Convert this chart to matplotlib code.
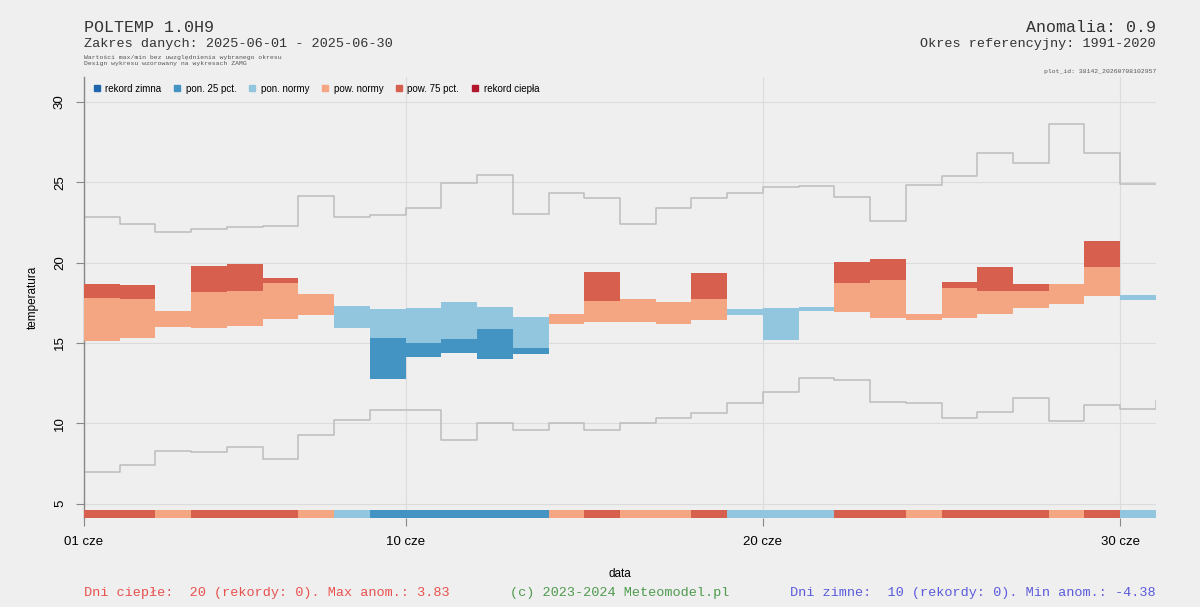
import matplotlib.pyplot as plt
from matplotlib.lines import Line2D

# dane dzienne, czerwiec 2025
dni = list(range(1, 31))
norma = [15.09, 15.30, 15.98, 15.94, 16.05, 16.46, 16.76, 17.29, 17.11, 17.17,
         17.54, 17.23, 16.61, 16.20, 16.30, 16.30, 16.15, 16.44, 17.13, 17.19,
         17.23, 16.92, 16.57, 16.40, 16.57, 16.82, 17.17, 17.44, 17.90, 17.96]
tavg = [18.69, 18.60, 16.98, 19.77, 19.89, 19.06, 18.02, 15.92, 12.73, 14.12,
        14.37, 14.02, 14.28, 16.82, 19.41, 17.75, 17.54, 19.35, 16.71, 15.20,
        16.98, 20.04, 20.22, 16.78, 18.81, 19.70, 18.69, 18.69, 21.34, 17.69]
# percentyl 75 (dni cieple) lub 25 (dni zimne), tylko gdy przekroczony
prog = [17.79, 17.71, None, 18.17, 18.23, 18.75, None, None, 15.30, 15.01,
        15.22, 15.88, 14.70, None, 17.59, None, None, 17.75, None, None,
        None, 18.75, 18.89, None, 18.44, 18.25, 18.21, None, 19.72, None]
# max/min z okresu referencyjnego (31. wartosc = koniec schodka)
tmax_ref = [22.86, 22.43, 21.90, 22.09, 22.20, 22.30, 24.13, 22.86, 22.94, 23.40,
            24.98, 25.45, 23.02, 24.36, 24.05, 22.38, 23.38, 24.05, 24.30, 24.71,
            24.77, 24.08, 22.57, 24.86, 25.39, 26.85, 26.17, 28.60, 26.81, 24.92, 24.92]
tmin_ref = [6.97, 7.40, 8.30, 8.22, 8.51, 7.79, 9.26, 10.23, 10.84, 10.80,
            8.96, 10.03, 9.58, 10.03, 9.58, 10.00, 10.30, 10.62, 11.27, 11.96,
            12.80, 12.71, 11.33, 11.27, 10.30, 10.71, 11.59, 10.15, 11.12, 10.86, 11.38]

xticks = [1, 10, 20, 30]
xlabels = ["01 cze", "10 cze", "20 cze", "30 cze"]
yticks = [5, 10, 15, 20, 25, 30]

kolory = {"rekord zimna": "#2166AC", "pon. 25 pct.": "#4393C3", "pon. normy": "#92C5DE",
          "pow. normy": "#F4A582", "pow. 75 pct.": "#D6604D", "rekord ciepła": "#B2182B"}

BG = "#EFEFEF"
MONO = "Liberation Mono"
SANS = "Liberation Sans"

fig = plt.figure(figsize=(12, 6.07), dpi=100, facecolor=BG)
ax = fig.add_axes([0.07, 0.1466, 0.8933, 0.7265], facecolor=BG)

pas_kol = []
for d, n, t, p in zip(dni, norma, tavg, prog):
    if t >= n:
        jasny, ciemny = kolory["pow. normy"], kolory["pow. 75 pct."]
    else:
        jasny, ciemny = kolory["pon. normy"], kolory["pon. 25 pct."]
    gr = t if p is None else p
    ax.bar(d, gr - n, bottom=n, width=1, align="edge", color=jasny, linewidth=0, zorder=3)
    if p is not None:
        ax.bar(d, t - p, bottom=p, width=1, align="edge", color=ciemny, linewidth=0, zorder=3)
    pas_kol.append(jasny if p is None else ciemny)

# pasek kategorii dni na dole
ax.bar(dni, [0.5] * len(dni), bottom=4.1, width=1, align="edge", color=pas_kol,
       linewidth=0, zorder=3)

x_kroki = dni + [31]
ax.step(x_kroki, tmax_ref, where="post", color="#BDBDBD", lw=1.1, zorder=2)
ax.step(x_kroki, tmin_ref, where="post", color="#BDBDBD", lw=1.1, zorder=2)

ax.set_xlim(1, 31)
ax.set_ylim(4.1, 31.55)
ax.set_xticks(xticks)
ax.set_xticklabels(xlabels, fontsize=9.5, family=SANS)
ax.set_yticks(yticks)
ax.set_yticklabels([str(v) for v in yticks], fontsize=9.5, family=SANS,
                   rotation=90, va="center")
ax.tick_params(axis="both", direction="out", length=6, color="#888888", width=0.8)
ax.tick_params(axis="x", pad=7)
ax.tick_params(axis="y", pad=7)
ax.grid(True, color="#DCDCDC", lw=0.8, zorder=0)
ax.set_axisbelow(True)
for s in ["top", "right", "bottom"]:
    ax.spines[s].set_visible(False)
ax.spines["left"].set_color("#888888")
ax.spines["left"].set_linewidth(1.0)
ax.set_ylabel("temperatura", fontsize=8.5, family=SANS, labelpad=11)
ax.set_xlabel("data", fontsize=8.5, family=SANS, labelpad=14)

uchwyty = [Line2D([], [], marker="s", ls="", color=c, markersize=5) for c in kolory.values()]
ax.legend(uchwyty, list(kolory.keys()), loc="upper left", bbox_to_anchor=(0.0, 1.005),
          ncol=6, frameon=False, prop={"family": SANS, "size": 7},
          handlelength=0.8, handletextpad=0.5, columnspacing=1.2)

fig.text(0.07, 1 - 27 / 607, "POLTEMP 1.0H9", family=MONO, fontsize=12, color="#333333", va="center")
fig.text(0.07, 1 - 44 / 607, "Zakres danych: 2025-06-01 - 2025-06-30", family=MONO,
         fontsize=9.7, color="#333333", va="center")
fig.text(0.07, 1 - 58 / 607, "Wartości max/min bez uwzględnienia wybranego okresu",
         family=MONO, fontsize=4.6, color="#555555", va="center")
fig.text(0.07, 1 - 63 / 607, "Design wykresu wzorowany na wykresach ZAMG",
         family=MONO, fontsize=4.6, color="#555555", va="center")
fig.text(0.9633, 1 - 27 / 607, "Anomalia: 0.9", family=MONO, fontsize=12, color="#333333",
         va="center", ha="right")
fig.text(0.9633, 1 - 44 / 607, "Okres referencyjny: 1991-2020", family=MONO, fontsize=9.7,
         color="#333333", va="center", ha="right")
fig.text(0.9633, 1 - 72 / 607, "plot_id: 38142_20260708102957", family=MONO, fontsize=4.6,
         color="#555555", va="center", ha="right")

fig.text(0.07, 1 - 593 / 607, "Dni ciepłe:  20 (rekordy: 0). Max anom.: 3.83", family=MONO,
         fontsize=9.7, color="#E8514E", va="center")
fig.text(0.5167, 1 - 593 / 607, "(c) 2023-2024 Meteomodel.pl", family=MONO, fontsize=9.7,
         color="#4E9A4E", va="center", ha="center")
fig.text(0.9633, 1 - 593 / 607, "Dni zimne:  10 (rekordy: 0). Min anom.: -4.38", family=MONO,
         fontsize=9.7, color="#5A5ADC", va="center", ha="right")

fig.savefig("out.png", dpi=100, facecolor=BG)
